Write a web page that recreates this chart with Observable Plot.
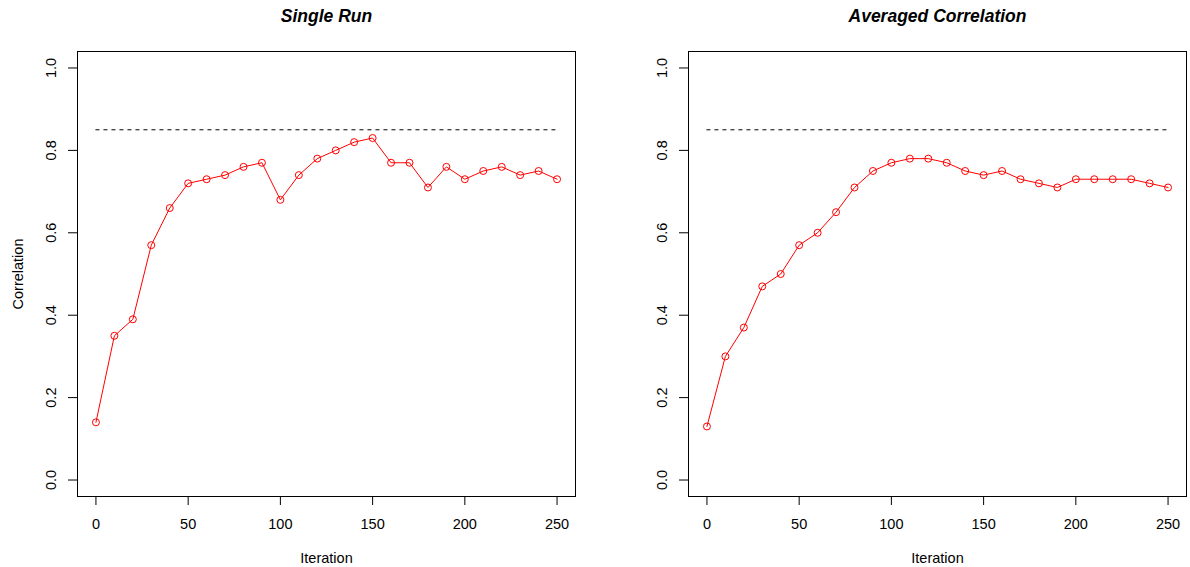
<!DOCTYPE html>
<html>
<head>
<meta charset="utf-8">
<script src="https://cdn.jsdelivr.net/npm/d3@7"></script>
<script src="https://cdn.jsdelivr.net/npm/@observablehq/plot@0.6"></script>
<style>
  html, body { margin: 0; padding: 0; background: #fff; }
  #wrap { position: relative; width: 1190px; height: 567px; overflow: hidden; background: #fff; }
  #wrap svg { position: absolute; top: 0; }
</style>
</head>
<body>
<div id="wrap"></div>
<script>
const iterations = [0,10,20,30,40,50,60,70,80,90,100,110,120,130,140,150,160,170,180,190,200,210,220,230,240,250];
const singleRun = [0.14,0.35,0.39,0.57,0.66,0.72,0.73,0.74,0.76,0.77,0.68,0.74,0.78,0.80,0.82,0.83,0.77,0.77,0.71,0.76,0.73,0.75,0.76,0.74,0.75,0.73];
const averaged = [0.13,0.30,0.37,0.47,0.50,0.57,0.60,0.65,0.71,0.75,0.77,0.78,0.78,0.77,0.75,0.74,0.75,0.73,0.72,0.71,0.73,0.73,0.73,0.73,0.72,0.71];
const referenceLevel = 0.85;
const xTicks = [0,50,100,150,200,250];
const yTicks = [0.0,0.2,0.4,0.6,0.8,1.0];
const titles = ["Single Run", "Averaged Correlation"];
const xLabel = "Iteration";
const yLabel = "Correlation";

const FONT = "'Liberation Sans', Arial, Helvetica, sans-serif";
const wrap = document.getElementById("wrap");

function panel(values, title, showYLabel, left, width, mLeft, mRight) {
  const rows = iterations.map((x, i) => ({x, y: values[i]}));
  const ref = [{x1: iterations[0], x2: iterations[iterations.length - 1], y: referenceLevel}];
  const marks = [
    Plot.frame({stroke: "black", strokeWidth: 1}),
    Plot.axisX({ticks: xTicks, tickSize: 9, tickPadding: 13, fontSize: 14.5, tickFormat: d3.format("d"), label: null}),
    Plot.axisY({ticks: yTicks, tickSize: 9, tickFormat: () => "", label: null}),
    Plot.text(yTicks, {y: d => d, text: d => d.toFixed(1), frameAnchor: "left", dx: -22, rotate: -90,
      textAnchor: "middle", lineAnchor: "bottom", fontSize: 14.5, fill: "black"}),
    Plot.ruleY(ref, {y: "y", x1: "x1", x2: "x2", stroke: "black", strokeWidth: 1, strokeDasharray: "4,4"}),
    Plot.line(rows, {x: "x", y: "y", stroke: "red", strokeWidth: 1}),
    Plot.dot(rows, {x: "x", y: "y", r: 3.5, stroke: "red", fill: "none", strokeWidth: 1}),
    Plot.text([title], {text: d => d, frameAnchor: "top", dy: -30, lineAnchor: "bottom",
      fontSize: 17.5, fontWeight: "bold", fontStyle: "italic", fill: "black"}),
    Plot.text([xLabel], {text: d => d, frameAnchor: "bottom", dy: 66, lineAnchor: "bottom",
      fontSize: 14.5, fill: "black"})
  ];
  if (showYLabel) {
    marks.push(Plot.text([yLabel], {text: d => d, frameAnchor: "left", dx: -55, rotate: -90,
      textAnchor: "middle", lineAnchor: "bottom", fontSize: 14.5, fill: "black"}));
  }
  const svg = Plot.plot({
    width, height: 567,
    marginLeft: mLeft, marginRight: mRight, marginTop: 51, marginBottom: 71,
    x: {domain: [-10, 260]},
    y: {domain: [-0.04, 1.04]},
    style: {fontFamily: FONT, background: "white", color: "black", overflow: "visible"},
    marks
  });
  svg.style.left = left + "px";
  wrap.appendChild(svg);
}

panel(singleRun, titles[0], true, 0, 595, 77, 20);
panel(averaged, titles[1], false, 595, 595, 93, 4);
</script>
</body>
</html>
